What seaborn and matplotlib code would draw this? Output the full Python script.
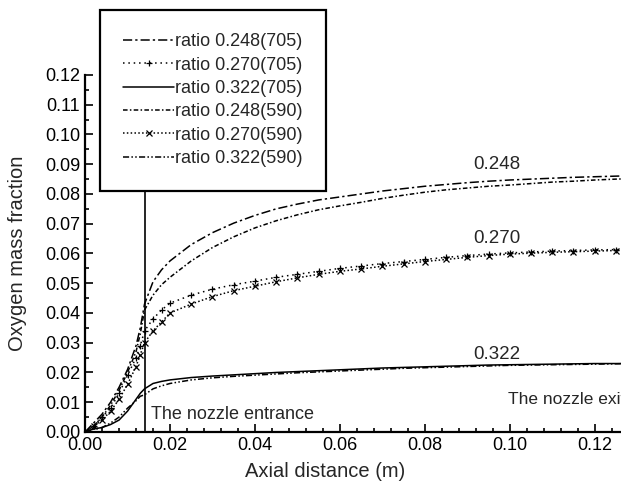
import numpy as np
import pandas as pd
import matplotlib
matplotlib.use('Agg')
import matplotlib.pyplot as plt
import seaborn as sns
from matplotlib.ticker import MultipleLocator

# axial positions (m)
x_pos = [0.000, 0.002, 0.004, 0.006, 0.008, 0.010, 0.012, 0.013, 0.014, 0.016, 0.018,
         0.020, 0.025, 0.030, 0.035, 0.040, 0.045, 0.050, 0.055, 0.060, 0.065, 0.070,
         0.075, 0.080, 0.085, 0.090, 0.095, 0.100, 0.105, 0.110, 0.115, 0.120, 0.125, 0.130]

r248_705 = [0, .003, .006, .010, .015, .021, .029, .035, .043, .0505, .0545,
            .0575, .063, .067, .0702, .0728, .075, .0766, .078, .079, .080, .081,
            .0818, .0826, .0832, .0838, .0843, .0847, .085, .0853, .0856, .0858, .086, .0862]
r270_705 = [0, .002, .005, .008, .013, .019, .025, .029, .034, .038, .041,
            .0433, .046, .048, .0495, .0507, .052, .053, .054, .055, .0558, .0566,
            .0573, .058, .0587, .0593, .0598, .0602, .0605, .0608, .061, .0612, .0613, .0614]
r322_705 = [0, .001, .0015, .0025, .004, .007, .011, .013, .0145, .0163, .017,
            .0175, .0183, .0188, .0192, .0196, .020, .0203, .0206, .0209, .0212, .0215,
            .0217, .0219, .0221, .0223, .0225, .0226, .0227, .0228, .0229, .023, .023, .0231]
r248_590 = [0, .002, .005, .009, .014, .020, .027, .033, .041, .046, .0495,
            .052, .0575, .062, .0656, .0686, .071, .073, .0747, .076, .0772, .0785,
            .0796, .0806, .0814, .082, .0826, .083, .0835, .084, .0843, .0847, .085, .0852]
r270_590 = [0, .002, .004, .007, .011, .016, .022, .026, .030, .034, .037,
            .040, .043, .0455, .0475, .049, .0505, .0518, .053, .054, .0548, .0557,
            .0565, .0573, .058, .0587, .0593, .0598, .0601, .0604, .0606, .0608, .061, .0611]
r322_590 = [0, .001, .0015, .003, .005, .008, .0105, .012, .0125, .0145, .0155,
            .0163, .0175, .0182, .0187, .0191, .0195, .0199, .0202, .0205, .0208, .0211,
            .0214, .0216, .0218, .022, .0222, .0224, .0225, .0226, .0227, .0228, .0229, .023]

labels = ['ratio 0.248(705)', 'ratio 0.270(705)', 'ratio 0.322(705)',
          'ratio 0.248(590)', 'ratio 0.270(590)', 'ratio 0.322(590)']
series = [r248_705, r270_705, r322_705, r248_590, r270_590, r322_590]

styles = [
    dict(linestyle=(0, (6, 2, 1.5, 2)), marker=None),
    dict(linestyle=(0, (1, 2.5)), marker='+'),
    dict(linestyle='-', marker=None),
    dict(linestyle=(0, (3, 1.5, 1, 1.5)), marker=None),
    dict(linestyle=(0, (1, 1.5)), marker='x'),
    dict(linestyle=(0, (4, 1.5, 1, 1.5, 1, 1.5)), marker=None),
]

nozzle_entrance = 0.014

sns.set_style('ticks')
plt.rcParams['font.family'] = ['Liberation Sans', 'DejaVu Sans']

fig = plt.figure(figsize=(6.21, 4.87), dpi=100)
ax = fig.add_axes([0.137, 0.113, 0.863, 0.733])

for lab, vals, st in zip(labels, series, styles):
    sns.lineplot(x=x_pos, y=vals, ax=ax, color='black', linewidth=1.1,
                 linestyle=st['linestyle'], marker=st['marker'], markersize=5,
                 markeredgewidth=0.9, markeredgecolor='black', label=lab)

ax.axvline(nozzle_entrance, color='black', linewidth=1.2)

ax.set_xlim(0, 0.1262)
ax.set_ylim(0, 0.12)
ax.xaxis.set_major_locator(MultipleLocator(0.02))
ax.xaxis.set_minor_locator(MultipleLocator(0.004))
ax.yaxis.set_major_locator(MultipleLocator(0.01))
ax.yaxis.set_minor_locator(MultipleLocator(0.005))
ax.xaxis.set_major_formatter(plt.FormatStrFormatter('%.2f'))
ax.yaxis.set_major_formatter(plt.FormatStrFormatter('%.2f'))
ax.tick_params(which='both', direction='in', colors='black', labelsize=13, width=1.2)
ax.tick_params(which='major', length=6)
ax.tick_params(which='minor', length=3)
for s in ['top', 'right']:
    ax.spines[s].set_visible(False)
for s in ['left', 'bottom']:
    ax.spines[s].set_linewidth(1.6)
    ax.spines[s].set_color('black')

ax.set_xlabel('Axial distance (m)', fontsize=14.5)
ax.set_ylabel('Oxygen mass fraction', fontsize=14.5)
ax.xaxis.set_label_coords(0.448, -0.085)
ax.yaxis.set_label_coords(-0.108, 0.5)

ax.text(0.0915, 0.0885, '0.248', fontsize=13.5)
ax.text(0.0915, 0.0635, '0.270', fontsize=13.5)
ax.text(0.0915, 0.0245, '0.322', fontsize=13.5)
ax.text(0.0155, 0.0045, 'The nozzle entrance', fontsize=13)
# the reference crops this label at the right edge
ax.text(0.0995, 0.0095, 'The nozzle exit', fontsize=12.5, clip_on=False)

leg = ax.legend(loc='upper left', bbox_to_anchor=(100 / 621, 1 - 10 / 487),
                bbox_transform=fig.transFigure, fontsize=13, frameon=True,
                fancybox=False, numpoints=1, handlelength=2.8, handletextpad=0.05,
                labelspacing=0.35, borderpad=1.3, borderaxespad=0)
leg.get_frame().set_edgecolor('black')
leg.get_frame().set_linewidth(1.6)
leg.get_frame().set_facecolor('white')
leg.get_frame().set_alpha(1)

fig.savefig('out.png', dpi=100)
